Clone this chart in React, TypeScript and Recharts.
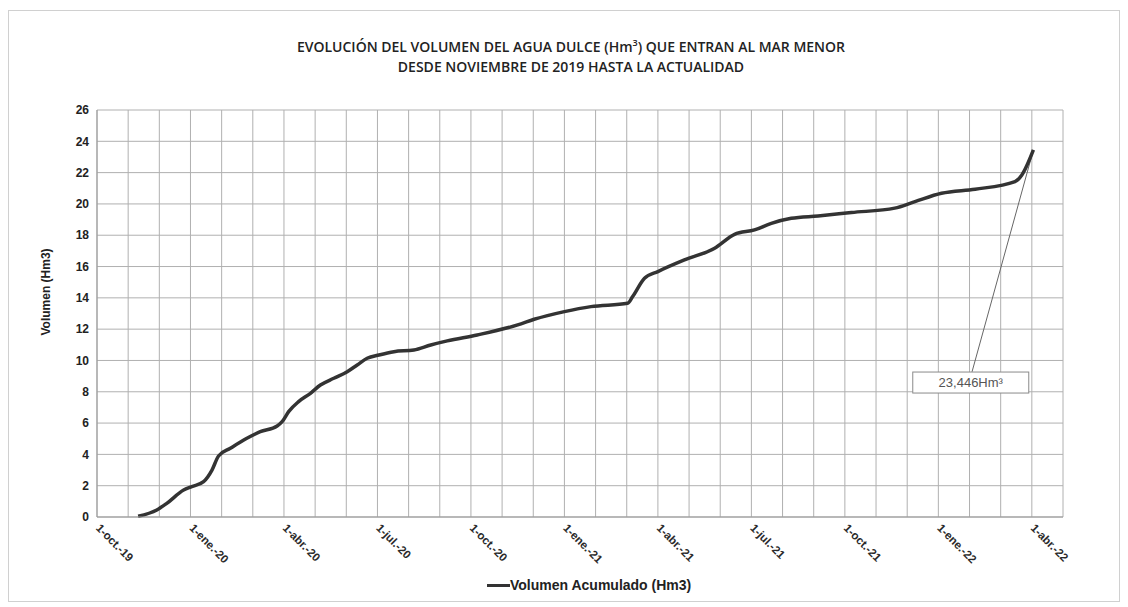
import { CartesianGrid, Line, LineChart, ReferenceDot, ReferenceLine, XAxis, YAxis } from 'recharts';

// months since 1-oct-19
const MONTHS = [
  1.32, 1.92, 2.24, 2.78, 3.04, 3.42, 3.69, 3.9, 4.28, 4.81, 5.24, 5.78, 5.94, 6.15, 6.47, 6.85, 7.17, 7.6, 8.03,
  8.35, 8.67, 9.05, 9.53, 10.17, 10.71, 11.24, 12.2, 13.5, 14.03, 15.0, 15.85, 17.03, 17.19, 17.57, 18.0, 18.85,
  19.82, 20.46, 21.1, 21.64, 22.28, 23.14, 24.21, 25.6, 26.25, 27.1, 28.18, 29.46, 29.68, 30.05,
];
const VOLUMEN = [
  0.05, 0.45, 0.87, 1.72, 1.94, 2.26, 3.0, 3.9, 4.39, 5.03, 5.45, 5.81, 6.09, 6.73, 7.37, 7.9, 8.43, 8.86, 9.28,
  9.71, 10.14, 10.35, 10.56, 10.67, 10.99, 11.25, 11.63, 12.27, 12.63, 13.12, 13.44, 13.65, 14.08, 15.25, 15.68,
  16.42, 17.17, 18.06, 18.34, 18.76, 19.08, 19.23, 19.45, 19.73, 20.15, 20.68, 20.94, 21.43, 21.85, 23.446,
];
const TICK_LABELS: Record<number, string> = {
  0: '1-oct.-19',
  3: '1-ene.-20',
  6: '1-abr.-20',
  9: '1-jul.-20',
  12: '1-oct.-20',
  15: '1-ene.-21',
  18: '1-abr.-21',
  21: '1-jul.-21',
  24: '1-oct.-21',
  27: '1-ene.-22',
  30: '1-abr.-22',
};
const X_TICKS = Array.from({ length: 32 }, (_, i) => i);
const Y_TICKS = [0, 2, 4, 6, 8, 10, 12, 14, 16, 18, 20, 22, 24, 26];
const LAST_LABEL = '23,446Hm³';

const data = MONTHS.map((m, i) => ({ m, v: VOLUMEN[i] }));
const last = data[data.length - 1];

const LINE_COLOR = '#333';
const GRID_COLOR = '#b0b0b0';
const AXIS_FONT = '"Liberation Sans", Arial, sans-serif';

function XTick({ x, y, payload }: any) {
  const label = TICK_LABELS[payload.value];
  if (!label) return null;
  return (
    <g transform={`translate(${x + 1},${y + 1}) rotate(45)`}>
      <text x={0} y={0} dy="0.35em" textAnchor="start" fontSize={11.5} fontWeight={600} fill="#2a2a2a" fontFamily={AXIS_FONT}>
        {label}
      </text>
    </g>
  );
}

function LabelBox({ cx, cy }: any) {
  return (
    <g>
      <rect x={cx - 58} y={cy - 10.5} width={116} height={21} fill="#fff" stroke="#8a8a8a" strokeWidth={1} />
      <text x={cx} y={cy} dy="0.35em" textAnchor="middle" fontSize={13} fill="#555" fontFamily={AXIS_FONT}>
        {LAST_LABEL}
      </text>
    </g>
  );
}

export default function App() {
  return (
    <div style={{ position: 'absolute', left: 0, top: 0, width: 1128, height: 607, background: '#fff' }}>
      <div
        style={{
          position: 'absolute',
          left: 8,
          top: 10,
          width: 1112,
          height: 592,
          border: '1px solid #d0d0d0',
          boxSizing: 'border-box',
        }}
      />
      <div
        style={{
          position: 'absolute',
          left: 0,
          top: 37,
          width: 1142,
          textAlign: 'center',
          fontFamily: '"Open Sans", sans-serif',
          fontWeight: 600,
          fontSize: 14,
          lineHeight: '20px',
          color: '#222',
        }}
      >
        <div>
          EVOLUCIÓN DEL VOLUMEN DEL AGUA DULCE (Hm<sup style={{ fontSize: 9, lineHeight: 0 }}>3</sup>) QUE ENTRAN AL MAR MENOR
        </div>
        <div>DESDE NOVIEMBRE DE 2019 HASTA LA ACTUALIDAD</div>
      </div>
      <div
        style={{
          position: 'absolute',
          left: 46,
          top: 292,
          transform: 'translate(-50%,-50%) rotate(-90deg)',
          whiteSpace: 'nowrap',
          fontFamily: AXIS_FONT,
          fontWeight: 700,
          fontSize: 12,
          color: '#222',
        }}
      >
        Volumen (Hm3)
      </div>
      <LineChart width={1128} height={607} data={data} margin={{ top: 110, right: 65, left: 0, bottom: 0 }}>
        <CartesianGrid stroke={GRID_COLOR} />
        <XAxis
          dataKey="m"
          type="number"
          domain={[0, 31]}
          ticks={X_TICKS}
          interval={0}
          height={90}
          tickLine={false}
          axisLine={{ stroke: '#999' }}
          tick={<XTick />}
        />
        <YAxis
          type="number"
          domain={[0, 26]}
          ticks={Y_TICKS}
          interval={0}
          width={97}
          tickLine={false}
          axisLine={{ stroke: '#999' }}
          tick={{ fontSize: 12, fontWeight: 700, fill: '#222', fontFamily: AXIS_FONT }}
        />
        <ReferenceLine
          segment={[
            { x: last.m, y: last.v },
            { x: 28.08, y: 9.27 },
          ]}
          stroke="#666"
          strokeWidth={1}
        />
        <ReferenceDot x={28.04} y={8.59} r={0} shape={<LabelBox />} />
        <Line
          type="monotone"
          dataKey="v"
          stroke={LINE_COLOR}
          strokeWidth={3.5}
          dot={false}
          isAnimationActive={false}
        />
      </LineChart>
      <div
        style={{
          position: 'absolute',
          left: 487,
          top: 577,
          display: 'flex',
          alignItems: 'center',
          fontFamily: AXIS_FONT,
          fontWeight: 700,
          fontSize: 14,
          color: '#222',
        }}
      >
        <span style={{ display: 'inline-block', width: 23, height: 3, background: LINE_COLOR }} />
        <span>Volumen Acumulado (Hm3)</span>
      </div>
    </div>
  );
}
